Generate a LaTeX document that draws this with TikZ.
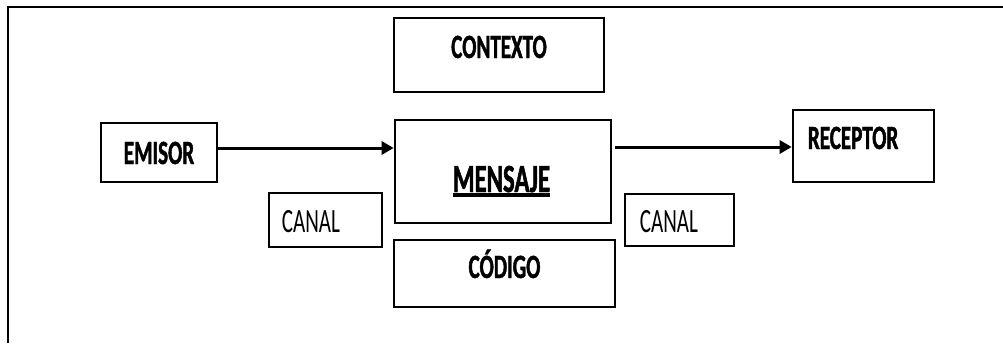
\documentclass[tikz,border=0pt]{standalone}
\usepackage{fontspec}
\setmainfont{Carlito}[FakeStretch=0.62,BoldFeatures={FakeBold=1.2}]
\usetikzlibrary{arrows.meta}
\begin{document}
\begin{tikzpicture}[x=1pt,y=-1pt,
	box/.style={draw,line width=2.6pt,inner sep=0pt},
	txt/.style={inner sep=0pt,anchor=base,font=\fontsize{34pt}{36pt}\selectfont\bfseries},
	plain/.style={txt,font=\fontsize{34pt}{36pt}\selectfont},
	arr/.style={line width=3pt,-{Triangle[length=12pt,width=13pt]}}]
	\useasboundingbox (0,0) rectangle (1003,343);
	% outer frame, cut off at right and bottom
	\draw[line width=2.6pt] (8,343) -- (8,7) -- (1003,7);
	% boxes
	\node[box,minimum width=210,minimum height=74] (ctx) at (499,55) {};
	\node[box,minimum width=116,minimum height=59] (emi) at (159,152.5) {};
	\node[box,minimum width=216,minimum height=103] (msg) at (503,171.5) {};
	\node[box,minimum width=221,minimum height=67] (cod) at (504.5,273.5) {};
	\node[box,minimum width=141,minimum height=72] (rec) at (863.5,146) {};
	\node[box,minimum width=113,minimum height=54] (canl) at (325.5,220) {};
	\node[box,minimum width=109,minimum height=52] (canr) at (679.5,220) {};
	% texts
	\node[txt] (tctx) at ([yshift=-3pt]ctx.center) {CONTEXTO};
	\node[txt] (temi) at ([yshift=-11.5pt]emi.center) {EMISOR};
	\node[txt,font=\fontsize{40pt}{42pt}\selectfont\bfseries] (tmsg) at ([shift={(-1.5pt,-20.5pt)}]msg.center) {MENSAJE};
	\draw[line width=4pt] ([yshift=-3pt]tmsg.base west) -- ([yshift=-3pt]tmsg.base east);
	\node[txt] (tcod) at ([yshift=-4.5pt]cod.center) {CÓDIGO};
	\node[txt,anchor=base west] (trec) at ([shift={(16pt,-3pt)}]rec.west) {RECEPTOR};
	\node[plain,anchor=base west] (tcanl) at ([shift={(14pt,-12pt)}]canl.west) {CANAL};
	\node[plain,anchor=base west] (tcanr) at ([shift={(16pt,-12pt)}]canr.west) {CANAL};
	% arrows
	\coordinate (e1) at ([yshift=4.5pt]emi.east);
	\draw[arr] (e1) -- (e1 -| msg.west);
	\coordinate (m1) at ([shift={(3pt,24.5pt)}]msg.east);
	\draw[arr] (m1) -- (m1 -| rec.west);
\end{tikzpicture}
\end{document}
